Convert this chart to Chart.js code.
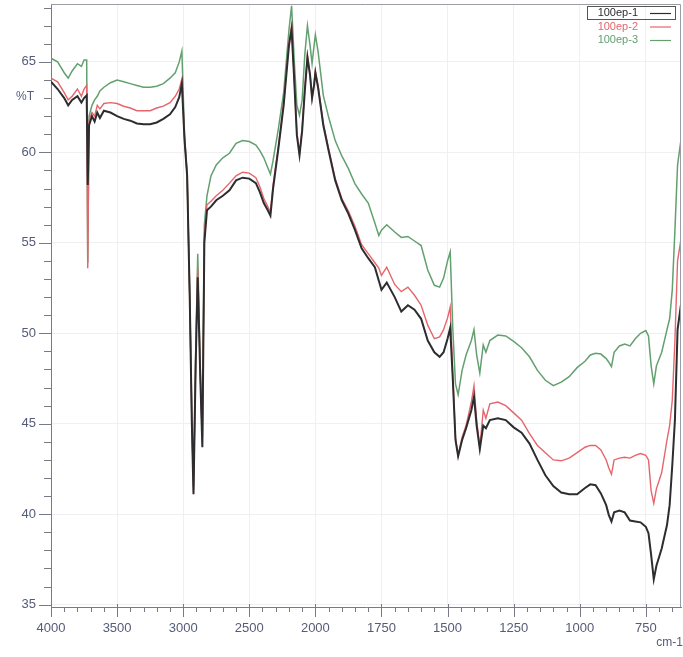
<!DOCTYPE html>
<html>
<head>
<meta charset="utf-8">
<script src="https://cdn.jsdelivr.net/npm/chart.js@4.4.1/dist/chart.umd.min.js"></script>
<style>
  html, body { margin: 0; padding: 0; background: #fff; }
  #wrap { width: 683px; height: 657px; position: relative; }
</style>
</head>
<body>
<div id="wrap"><canvas id="ftir"></canvas></div>
<script>
// wavenumbers (cm-1), shared by the three spectra
const wavenumbers = [4000, 3950, 3900, 3870, 3840, 3800, 3770, 3750, 3730, 3722, 3712, 3690, 3670, 3650, 3630, 3600, 3550, 3500, 3450, 3400, 3350, 3300, 3250, 3200, 3150, 3100, 3060, 3030, 3010, 2990, 2970, 2950, 2935, 2922, 2905, 2890, 2870, 2855, 2840, 2820, 2790, 2750, 2700, 2650, 2600, 2550, 2500, 2450, 2420, 2390, 2360, 2340, 2320, 2280, 2240, 2200, 2180, 2160, 2140, 2120, 2100, 2080, 2060, 2040, 2025, 2010, 2000, 1990, 1970, 1950, 1925, 1900, 1875, 1850, 1825, 1800, 1775, 1760, 1750, 1730, 1700, 1675, 1650, 1625, 1600, 1575, 1550, 1530, 1515, 1500, 1490, 1480, 1470, 1460, 1445, 1430, 1410, 1400, 1390, 1378, 1365, 1355, 1340, 1310, 1280, 1250, 1220, 1190, 1160, 1130, 1100, 1070, 1040, 1010, 980, 960, 940, 920, 900, 890, 880, 870, 850, 830, 810, 790, 770, 750, 740, 730, 720, 710, 690, 670, 660, 650, 640, 630, 617];

// %T values
const ep1 = [63.9, 63.5, 63.0, 62.6, 62.9, 63.1, 62.75, 63.0, 63.15, 58.2, 61.5, 62.0, 61.7, 62.2, 61.9, 62.3, 62.2, 62.0, 61.85, 61.75, 61.6, 61.55, 61.55, 61.65, 61.85, 62.1, 62.5, 63.05, 63.8, 60.7, 58.7, 51.8, 45.2, 41.1, 48.5, 53.1, 47.4, 43.7, 55.0, 56.8, 57.0, 57.35, 57.6, 57.9, 58.45, 58.6, 58.55, 58.3, 57.8, 57.2, 56.8, 56.5, 58.0, 60.2, 62.6, 65.9, 66.8, 64.0, 60.95, 59.85, 61.2, 63.4, 65.25, 64.25, 63.0, 63.7, 64.4, 63.6, 61.5, 60.1, 58.45, 57.35, 56.6, 55.7, 54.7, 54.15, 53.65, 52.9, 52.4, 52.8, 52.0, 51.2, 51.55, 51.3, 50.8, 49.6, 48.95, 48.7, 48.95, 49.7, 50.3, 47.4, 44.1, 43.2, 44.1, 44.75, 45.75, 46.5, 44.9, 43.6, 44.9, 44.75, 45.2, 45.3, 45.2, 44.8, 44.5, 43.9, 43.0, 42.15, 41.55, 41.2, 41.1, 41.1, 41.45, 41.65, 41.6, 41.15, 40.5, 39.95, 39.6, 40.1, 40.2, 40.1, 39.65, 39.6, 39.55, 39.3, 38.95, 37.75, 36.4, 37.15, 38.1, 39.4, 40.5, 42.7, 45.2, 50.2, 51.6];
const ep2 = [64.1, 63.9, 63.3, 62.9, 63.1, 63.5, 63.1, 63.5, 63.7, 53.6, 61.8, 62.2, 62.0, 62.6, 62.4, 62.7, 62.75, 62.7, 62.55, 62.45, 62.3, 62.3, 62.3, 62.45, 62.55, 62.75, 63.1, 63.5, 64.05, 60.8, 58.7, 51.9, 45.4, 41.3, 48.7, 53.6, 47.6, 44.0, 55.5, 57.1, 57.3, 57.6, 57.9, 58.3, 58.7, 58.9, 58.85, 58.6, 58.1, 57.45, 57.0, 56.7, 58.2, 60.3, 62.7, 66.1, 67.0, 64.1, 61.1, 59.9, 61.3, 63.5, 65.35, 64.3, 63.0, 63.8, 64.5, 63.7, 61.6, 60.2, 58.55, 57.45, 56.75, 55.9, 54.9, 54.4, 53.9, 53.6, 53.2, 53.65, 52.7, 52.3, 52.55, 52.1, 51.55, 50.45, 49.7, 49.8, 50.2, 50.85, 51.45, 47.6, 44.2, 43.25, 44.25, 44.9, 46.2, 47.1, 45.2, 43.7, 45.75, 45.3, 46.1, 46.2, 46.0, 45.6, 45.2, 44.45, 43.8, 43.4, 43.0, 42.95, 43.1, 43.4, 43.7, 43.8, 43.8, 43.55, 43.0, 42.55, 42.2, 43.0, 43.1, 43.15, 43.1, 43.25, 43.35, 43.25, 43.0, 41.3, 40.6, 41.4, 42.3, 44.1, 44.9, 46.3, 49.6, 54.0, 55.2];
const ep3 = [65.2, 65.0, 64.4, 64.1, 64.5, 64.9, 64.75, 65.1, 65.1, 53.9, 62.0, 62.6, 62.9, 63.1, 63.4, 63.6, 63.85, 64.0, 63.9, 63.8, 63.7, 63.6, 63.6, 63.65, 63.8, 64.1, 64.4, 65.0, 65.6, 61.0, 58.8, 52.0, 45.6, 41.5, 49.0, 54.4, 47.8, 44.3, 56.0, 57.6, 58.7, 59.3, 59.7, 59.95, 60.5, 60.65, 60.6, 60.4, 60.1, 59.7, 59.15, 58.8, 59.55, 61.3, 63.3, 66.75, 68.1, 65.1, 62.6, 62.05, 62.9, 65.4, 67.0, 65.9, 64.9, 65.9, 66.5, 65.6, 63.15, 61.95, 60.65, 59.8, 59.1, 58.25, 57.7, 57.2, 56.1, 55.4, 55.7, 56.0, 55.6, 55.3, 55.35, 55.1, 54.85, 53.5, 52.65, 52.55, 53.05, 54.0, 54.5, 50.2, 47.2, 46.6, 47.95, 48.8, 49.6, 50.2, 48.8, 47.8, 49.35, 48.95, 49.6, 49.9, 49.85, 49.55, 49.2, 48.7, 47.95, 47.4, 47.1, 47.3, 47.6, 48.1, 48.45, 48.8, 48.9, 48.85, 48.6, 48.4, 48.15, 48.95, 49.3, 49.4, 49.3, 49.7, 50.0, 50.15, 49.85, 48.2, 47.2, 48.2, 48.95, 50.2, 50.8, 52.4, 55.7, 59.3, 60.7];

const seriesNames = ["100ep-1", "100ep-2", "100ep-3"];
const seriesColors = ["#2d2d30", "#e4666c", "#63a06f"];
const seriesWidths = [2, 1.4, 1.5];

const xTickLabels = [4000, 3500, 3000, 2500, 2000, 1750, 1500, 1250, 1000, 750];
const yTickLabels = [35, 40, 45, 50, 55, 60, 65];
const xEnd = 617;

// the instrument plots below 2000 cm-1 at twice the scale
function toU(w) { return w >= 2000 ? 4000 - w : 2000 + 2 * (2000 - w); }
function fromU(u) { return u <= 2000 ? 4000 - u : 2000 - (u - 2000) / 2; }

const axisColor = "#777a88";
const labelColor = "#555b78";
const fontFamily = "'Liberation Sans', Arial, sans-serif";

const datasets = [ep1, ep2, ep3].map((vals, i) => ({
  label: seriesNames[i],
  data: wavenumbers.map((w, j) => ({ x: toU(w), y: vals[j] })),
  borderColor: seriesColors[i],
  borderWidth: seriesWidths[i],
  pointRadius: 0,
  tension: 0,
  fill: false
}));

const decor = {
  id: "decor",
  afterDraw(chart) {
    const { ctx, chartArea: a, scales: { x, y } } = chart;
    ctx.save();
    // top and right frame
    ctx.strokeStyle = "#9a9ca6";
    ctx.lineWidth = 1;
    ctx.beginPath();
    ctx.moveTo(a.left, a.top + 0.5);
    ctx.lineTo(a.right - 0.5, a.top + 0.5);
    ctx.lineTo(a.right - 0.5, a.bottom);
    ctx.stroke();

    // tick marks
    ctx.strokeStyle = axisColor;
    ctx.beginPath();
    x.ticks.forEach(t => {
      const px = Math.round(x.getPixelForValue(t.value)) + 0.5;
      const major = xTickLabels.includes(Math.round(fromU(t.value)));
      ctx.moveTo(px, a.bottom - (major ? 3 : 0));
      ctx.lineTo(px, a.bottom + (major ? 10 : 5));
    });
    y.ticks.forEach(t => {
      const py = Math.round(y.getPixelForValue(t.value)) + 0.5;
      const major = yTickLabels.includes(t.value);
      ctx.moveTo(a.left - (major ? 12 : 7), py);
      ctx.lineTo(a.left, py);
    });
    ctx.stroke();

    // axis titles
    ctx.fillStyle = labelColor;
    ctx.font = "12px " + fontFamily;
    ctx.textBaseline = "middle";
    ctx.textAlign = "right";
    ctx.fillText("%T", 34, 97);
    ctx.fillText("cm-1", 683, 643);

    // legend
    ctx.font = "11px " + fontFamily;
    seriesNames.forEach((name, i) => {
      const ly = 13 + i * 13.5;
      ctx.fillStyle = seriesColors[i];
      ctx.textAlign = "right";
      ctx.fillText(name, 638, ly);
      ctx.strokeStyle = seriesColors[i];
      ctx.lineWidth = 1.2;
      ctx.beginPath();
      ctx.moveTo(650, ly + 0.5);
      ctx.lineTo(671, ly + 0.5);
      ctx.stroke();
    });
    ctx.strokeStyle = "#555";
    ctx.lineWidth = 1;
    ctx.strokeRect(587.5, 6.5, 88, 13);
    ctx.restore();
  }
};

new Chart(document.getElementById("ftir"), {
  type: "line",
  data: { datasets },
  options: {
    responsive: true,
    maintainAspectRatio: false,
    animation: false,
    layout: { padding: { top: 4, right: 2, left: 0, bottom: 0 } },
    plugins: { legend: { display: false }, tooltip: { enabled: false } },
    scales: {
      x: {
        type: "linear",
        min: 0,
        max: toU(xEnd),
        afterBuildTicks: s => {
          const t = [];
          for (let u = 0; u <= toU(xEnd); u += 100) t.push({ value: u });
          s.ticks = t;
        },
        afterFit: s => {
          s.height = 50;
          s.paddingLeft = 0;
          s.paddingRight = 0;
        },
        ticks: {
          autoSkip: false,
          maxRotation: 0,
          padding: 14,
          color: labelColor,
          font: { family: fontFamily, size: 13 },
          callback: v => {
            const w = Math.round(fromU(v));
            return xTickLabels.includes(w) ? String(w) : "";
          }
        },
        grid: {
          drawTicks: false,
          color: c => (c.tick && xTickLabels.includes(Math.round(fromU(c.tick.value)))) ? "#f0f0f3" : "rgba(0,0,0,0)"
        },
        border: { display: true, color: axisColor, width: 1 }
      },
      y: {
        min: 34.87,
        max: 68.2,
        afterBuildTicks: s => {
          const t = [];
          for (let v = 35; v <= 68; v++) t.push({ value: v });
          s.ticks = t;
        },
        afterFit: s => {
          s.width = 51;
          s.paddingTop = 0;
          s.paddingBottom = 0;
        },
        ticks: {
          autoSkip: false,
          padding: 15,
          color: labelColor,
          font: { family: fontFamily, size: 13 },
          callback: v => yTickLabels.includes(v) ? String(v) : ""
        },
        grid: {
          drawTicks: false,
          color: c => (c.tick && yTickLabels.includes(c.tick.value)) ? "#f0f0f3" : "rgba(0,0,0,0)"
        },
        border: { display: true, color: axisColor, width: 1 }
      }
    }
  },
  plugins: [decor]
});
</script>
</body>
</html>
